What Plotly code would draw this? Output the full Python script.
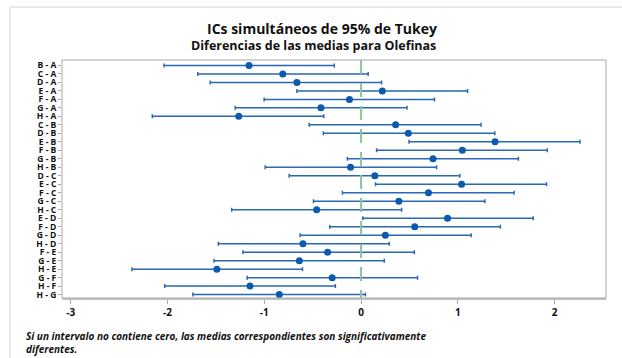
import plotly.graph_objects as go

labels = ["B - A", "C - A", "D - A", "E - A", "F - A", "G - A", "H - A",
          "C - B", "D - B", "E - B", "F - B", "G - B", "H - B",
          "D - C", "E - C", "F - C", "G - C", "H - C",
          "E - D", "F - D", "G - D", "H - D",
          "F - E", "G - E", "H - E",
          "G - F", "H - F", "H - G"]
center = [-1.158, -0.809, -0.663, 0.219, -0.120, -0.415, -1.264,
          0.357, 0.488, 1.384, 1.046, 0.743, -0.109,
          0.142, 1.038, 0.696, 0.390, -0.459,
          0.893, 0.554, 0.251, -0.601,
          -0.346, -0.638, -1.490,
          -0.299, -1.148, -0.845]
lower = [-2.036, -1.687, -1.559, -0.663, -1.002, -1.301, -2.157,
         -0.536, -0.390, 0.495, 0.160, -0.142, -0.991,
         -0.743, 0.149, -0.193, -0.492, -1.337,
         0.018, -0.324, -0.630, -1.475,
         -1.220, -1.519, -2.368,
         -1.177, -2.029, -1.738]
upper = [-0.277, 0.073, 0.211, 1.100, 0.758, 0.474, -0.386,
         1.239, 1.381, 2.262, 1.923, 1.625, 0.780,
         1.020, 1.916, 1.581, 1.279, 0.419,
         1.778, 1.439, 1.137, 0.291,
         0.550, 0.240, -0.605,
         0.583, -0.266, 0.044]
x_ticks = [-3, -2, -1, 0, 1, 2]
x_ticktext = ["-3", "-2", "-1", "0", "1", "2"]

ypos = list(range(len(labels)))
plus = [u - c for u, c in zip(upper, center)]
minus = [c - l for c, l in zip(center, lower)]

fig = go.Figure()
fig.add_trace(go.Scatter(
    x=center, y=ypos, mode="markers",
    marker=dict(color="#0B5AAE", size=7),
    error_x=dict(type="data", array=plus, arrayminus=minus, symmetric=False,
                 color="#2A68B4", thickness=1.5, width=2),
    showlegend=False, hoverinfo="skip"))

L, R, T, B = 62, 16, 60, 60
W, H = 622, 358
pw, ph = W - L - R, H - T - B

def px(xp):
    return (xp - L) / pw

def py(yp):
    return (H - B - yp) / ph

shapes = [
    dict(type="line", xref="x", yref="paper", x0=0, x1=0, y0=1, y1=0,
         line=dict(color="#86C594", width=2, dash="14px,9px"), layer="above"),
    dict(type="rect", xref="paper", yref="paper", x0=0, x1=1, y0=0, y1=1,
         line=dict(color="#A8A8A8", width=1)),
    dict(type="rect", xref="paper", yref="paper", x0=px(10), x1=px(640), y0=py(7), y1=py(380),
         line=dict(color="#D4D4D4", width=1)),
]

annotations = [
    dict(text="<b>ICs simultáneos de 95% de Tukey</b>", xref="paper", yref="paper",
         x=px(322), y=py(28), xanchor="center", yanchor="middle", showarrow=False,
         font=dict(family="Open Sans", size=14, color="#111111")),
    dict(text="<b>Diferencias de las medias para Olefinas</b>", xref="paper", yref="paper",
         x=px(313), y=py(45), xanchor="center", yanchor="middle", showarrow=False,
         font=dict(family="Open Sans", size=12.5, color="#111111")),
    dict(text="<b><i>Si un intervalo no contiene cero, las medias correspondientes son significativamente<br>diferentes.</i></b>",
         xref="paper", yref="paper", x=px(24), y=py(327), xanchor="left", yanchor="top",
         align="left", showarrow=False,
         font=dict(family="Open Sans", size=10, color="#111111")),
]

fig.update_layout(
    width=W, height=H, margin=dict(l=L, r=R, t=T, b=B),
    paper_bgcolor="white", plot_bgcolor="white",
    shapes=shapes, annotations=annotations,
    xaxis=dict(range=[-3.09, 2.53], tickvals=x_ticks, ticktext=x_ticktext,
               showgrid=False, zeroline=False, showline=True, linecolor="#C4C4C4", linewidth=2,
               ticks="outside", ticklen=4, tickcolor="#A8A8A8",
               tickfont=dict(family="Open Sans", size=10, color="#111111", weight="bold")),
    yaxis=dict(range=[27.4, -0.64], tickvals=ypos, ticktext=labels,
               showgrid=False, zeroline=False, showline=False,
               ticks="outside", ticklen=3, tickcolor="#A8A8A8",
               tickfont=dict(family="Open Sans", size=8.5, color="#111111", weight="bold")),
)

fig.write_html("out.html")
